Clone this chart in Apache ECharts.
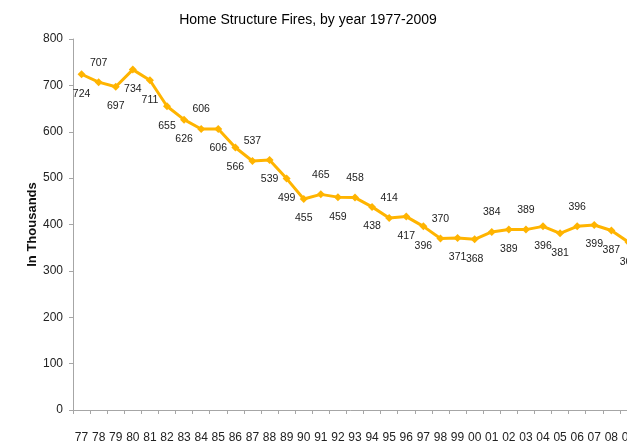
<!DOCTYPE html>
<html>
<head>
<meta charset="utf-8">
<script src="https://cdn.jsdelivr.net/npm/echarts@6/dist/echarts.min.js"></script>
<style>
  html, body { margin: 0; padding: 0; background: #fff; }
  #chart { width: 627px; height: 444px; }
</style>
</head>
<body>
<div id="chart"></div>
<script>
// years shown as two-digit labels on the x axis
const years = ['77', '78', '79', '80', '81', '82', '83', '84', '85', '86', '87', '88', '89', '90', '91', '92',
  '93', '94', '95', '96', '97', '98', '99', '00', '01', '02', '03', '04', '05', '06', '07', '08', '09']
// home structure fires, in thousands
const fires = [724, 707, 697, 734, 711, 655, 626, 606, 606, 566, 537, 539, 499, 455, 465, 459,
  458, 438, 414, 417, 396, 370, 371, 368, 384, 389, 389, 396, 381, 396, 399, 387, 362]
// years whose value label sits above the point (the rest sit below)
const labelsAbove = ['78', '84', '87', '91', '93', '95', '98', '01', '03', '06']
const yTicks = { min: 0, max: 800, step: 100 }

const font = "'Liberation Sans', Arial, sans-serif"
const lineColor = '#FFB400'

const chart = echarts.init(document.getElementById('chart'))

chart.setOption({
  animation: false,
  title: {
    text: 'Home Structure Fires, by year 1977-2009',
    left: 303,
    textAlign: 'center',
    top: 8,
    textStyle: { fontFamily: font, fontSize: 14, fontWeight: 'normal', color: '#000' }
  },
  grid: { left: 73, top: 39, width: 564, height: 371, outerBoundsMode: 'none' },
  xAxis: {
    type: 'category',
    data: years,
    boundaryGap: true,
    axisLine: { lineStyle: { color: '#a6a6a6', width: 1 } },
    axisTick: { show: true, length: 4, lineStyle: { color: '#a6a6a6' } },
    axisLabel: { interval: 0, margin: 22, fontFamily: font, fontSize: 12, color: '#222' }
  },
  yAxis: {
    type: 'value',
    min: yTicks.min,
    max: yTicks.max,
    interval: yTicks.step,
    name: 'In Thousands',
    nameLocation: 'middle',
    nameRotate: 90,
    nameGap: 34,
    nameMoveOverlap: false,
    nameTextStyle: { fontFamily: font, fontSize: 13, fontWeight: 'bold', color: '#111' },
    splitLine: { show: false },
    axisLine: { show: true, lineStyle: { color: '#a6a6a6', width: 1 } },
    axisTick: { show: true, length: 4, lineStyle: { color: '#a6a6a6' } },
    axisLabel: { margin: 10, fontFamily: font, fontSize: 12, color: '#222' }
  },
  series: [{
    type: 'line',
    data: fires.map((v, i) => ({
      value: v,
      label: { position: labelsAbove.includes(years[i]) ? 'top' : 'bottom' }
    })),
    symbol: 'diamond',
    symbolSize: 8,
    lineStyle: { color: lineColor, width: 3 },
    itemStyle: { color: lineColor },
    label: {
      show: true,
      distance: 10,
      fontFamily: font,
      fontSize: 10.5,
      color: '#222'
    }
  }]
})
</script>
</body>
</html>
